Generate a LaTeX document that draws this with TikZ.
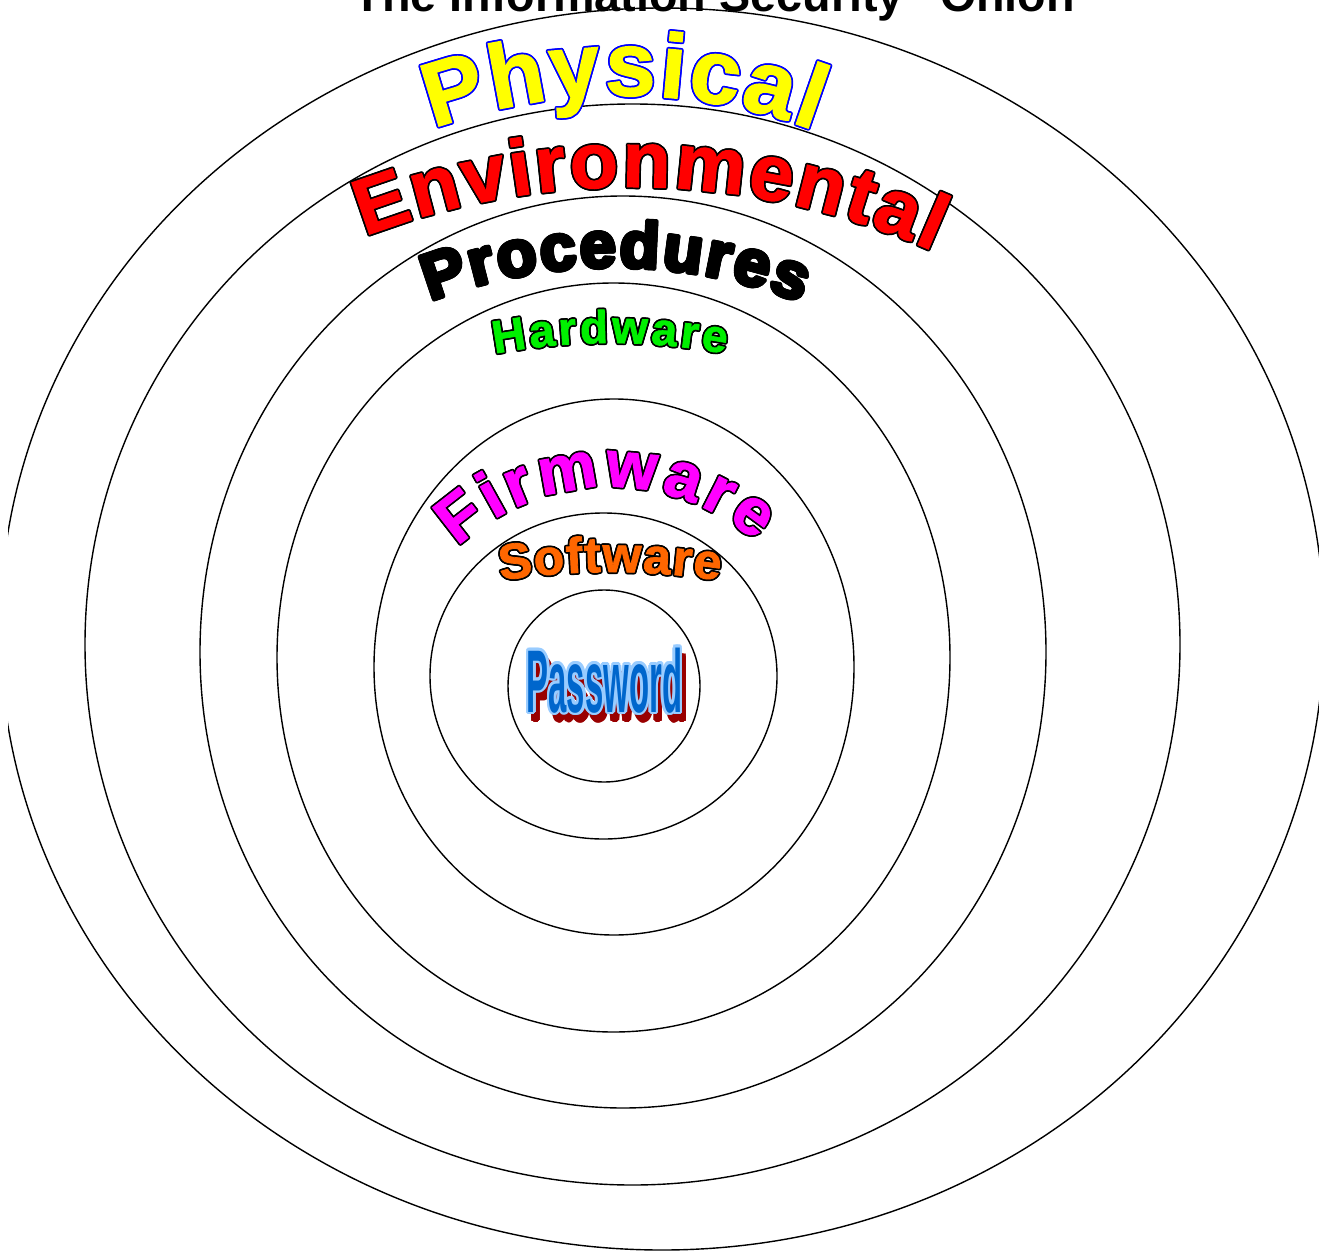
\documentclass[tikz,border=0pt]{standalone}
\usepackage{fontspec}
\usetikzlibrary{decorations.text}
\newfontfamily\wafont{Liberation Sans}[BoldFeatures={FakeBold=1.5}]
\newfontfamily\plainfont{Liberation Sans}

\definecolor{physyellow}{RGB}{255,255,0}
\definecolor{physblue}{RGB}{0,0,255}
\definecolor{envred}{RGB}{255,0,0}
\definecolor{hwgreen}{RGB}{0,240,0}
\definecolor{fwmagenta}{RGB}{255,0,255}
\definecolor{sworange}{RGB}{255,102,0}
\definecolor{pwblue}{RGB}{0,102,204}
\definecolor{pwlight}{RGB}{153,204,255}
\definecolor{pwshadow}{RGB}{153,0,0}

\newcommand\wordsize[1]{\wafont\bfseries\fontsize{#1}{#1}\selectfont}
\newcommand\plainsize[1]{\plainfont\bfseries\fontsize{#1}{#1}\selectfont}
\newcommand\pwword{\scalebox{0.37}[1]{Password}}

\tikzset{
  ring/.style={line width=1.4pt},
  arch/.style 2 args={decorate, decoration={text along path, text align=fit to path, text={|#1|#2}}},
  pw/.style={anchor=base, inner sep=0pt, font=\plainsize{89}},
}

% centre, radius, start angle, end angle, size, fill, outline, word
\newcommand\archword[8]{%
  \foreach \a in {0,30,...,330}
    \path[shift={(\a:1.7)}, shift={#1}, arch={\wordsize{#5}\color{#7}}{#8}]
      (#3:#2) arc[start angle=#3, end angle=#4, radius=#2];
  \path[shift={#1}, arch={\wordsize{#5}\color{#6}}{#8}]
    (#3:#2) arc[start angle=#3, end angle=#4, radius=#2];
}

\begin{document}
\begin{tikzpicture}[x=1pt, y=1pt]
\useasboundingbox (0,-1252) rectangle (1319,0);
\clip (8,-1252) rectangle (1319,0);

% Rings
\foreach \cx/\cy/\rx/\ry in {662/-629/662/621, 632.5/-644.5/547.5/540.5,
    623/-652/423/456, 613.5/-657.5/336.5/374.5, 614/-667/240/268,
    603.5/-676/173.5/163, 604/-686/96/96}
  \draw[ring] (\cx,\cy) ellipse[x radius=\rx, y radius=\ry];

% Title
\node[anchor=base, inner sep=0pt, font=\plainsize{46.7}] (title) at (726,-12) {The Information Security “Onion”};

% Layer names
\archword{(621.5,-645.5)}{550}{110}{69.5}{91}{physyellow}{physblue}{Physical}
\archword{(631,-930)}{743}{111}{66}{79}{envred}{black}{Environmental}
\archword{(614,-780)}{513}{111}{68.6}{65}{black}{black}{Procedures}
\archword{(610,-970)}{627}{100.6}{79.4}{46}{hwgreen}{black}{Hardware}
\archword{(609.6,-710)}{223}{133}{49}{66}{fwmagenta}{black}{Firmware}
\archword{(610,-1287)}{715}{98.8}{81.2}{50}{sworange}{black}{Software}

% Password
\foreach \a in {0,45,...,315}
  \node[pw, text=pwshadow, shift={(\a:2)}] at (609,-720) {\pwword};
\foreach \a in {0,30,...,330}
  \node[pw, text=pwlight, shift={(\a:2.5)}] at (604.5,-712) {\pwword};
\node[pw, text=pwblue] (pass) at (604.5,-712) {\pwword};

\end{tikzpicture}
\end{document}
